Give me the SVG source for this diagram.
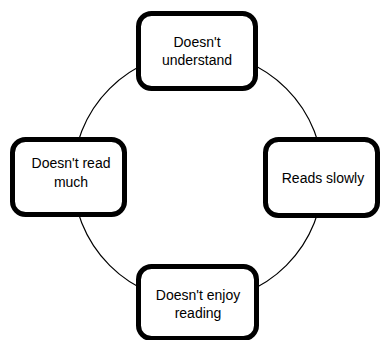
<svg xmlns="http://www.w3.org/2000/svg" width="384" height="340" viewBox="0 0 384 340">
<style>
.box{fill:#fff;stroke:#000;stroke-width:5}
.t{font-family:"Liberation Sans",Arial,sans-serif;font-size:14px;fill:#000;text-anchor:middle}
</style>
<rect width="384" height="340" fill="#fff"/>
<g id="connectors">
<circle cx="198" cy="177" r="125" fill="none" stroke="#000" stroke-width="1.2"/>
</g>
<g id="node-top">
<rect class="box" x="138.5" y="13.5" width="117" height="75" rx="13"/>
<text class="t" x="197" y="47">Doesn't</text>
<text class="t" x="197" y="65">understand</text>
</g>
<g id="node-left">
<rect class="box" x="12.5" y="139.5" width="112" height="75" rx="13"/>
<text class="t" x="71" y="168">Doesn't read</text>
<text class="t" x="71" y="187">much</text>
</g>
<g id="node-right">
<rect class="box" x="265.5" y="139.5" width="112" height="76" rx="13"/>
<text class="t" x="323" y="183">Reads slowly</text>
</g>
<g id="node-bottom">
<rect class="box" x="138.5" y="266.5" width="118" height="72" rx="13"/>
<text class="t" x="198" y="300">Doesn't enjoy</text>
<text class="t" x="198" y="318">reading</text>
</g>
</svg>
